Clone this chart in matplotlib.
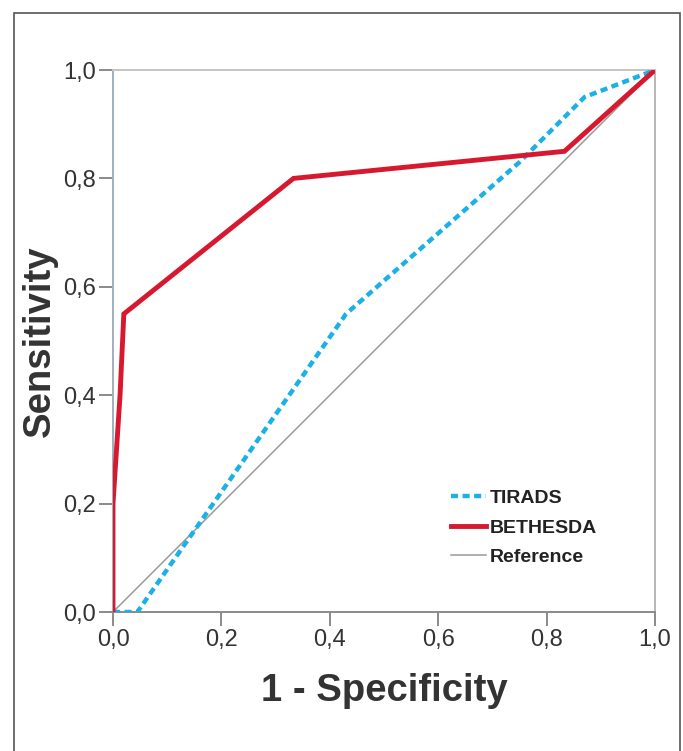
import matplotlib.pyplot as plt
from matplotlib.patches import Rectangle
from matplotlib.ticker import FuncFormatter

plt.rcParams['font.family'] = ['Liberation Sans', 'DejaVu Sans']

# ROC curve points
tirads_fpr = [0.0, 0.045, 0.43, 0.75, 0.87, 1.0]
tirads_tpr = [0.0, 0.0, 0.55, 0.83, 0.95, 1.0]

bethesda_fpr = [0.0, 0.0, 0.013, 0.02, 0.333, 0.833, 1.0]
bethesda_tpr = [0.0, 0.2, 0.4, 0.55, 0.8, 0.85, 1.0]

ref = [0.0, 1.0]
ticks = [0.0, 0.2, 0.4, 0.6, 0.8, 1.0]

fig = plt.figure(figsize=(6.83, 7.51), dpi=100)

# outer frame (no bottom edge visible)
fig.patches.append(Rectangle((14 / 683, -0.05), 666 / 683, 1 - 13 / 751 + 0.05,
                             transform=fig.transFigure, fill=False,
                             edgecolor='#555555', linewidth=1.2))

ax = fig.add_axes([113 / 683, 139 / 751, 542 / 683, 542 / 751])

ax.plot(ref, ref, color='#9a9a9a', linewidth=1.1, label='Reference', zorder=2)
ax.plot(tirads_fpr, tirads_tpr, color='#1cb1e6', linewidth=3.2,
        dashes=(1.6, 1.0), label='TIRADS', zorder=3)
ax.plot(bethesda_fpr, bethesda_tpr, color='#d7182f', linewidth=3.5,
        solid_joinstyle='miter', label='BETHESDA', zorder=4)

ax.set_xlim(0, 1)
ax.set_ylim(0, 1)
ax.set_xticks(ticks)
ax.set_yticks(ticks)
fmt = FuncFormatter(lambda v, p: f'{v:.1f}'.replace('.', ','))
ax.xaxis.set_major_formatter(fmt)
ax.yaxis.set_major_formatter(fmt)
ax.tick_params(axis='both', direction='out', length=10, width=1.2,
               color='#777777', labelsize=17, labelcolor='#333333', pad=2)

ax.spines['left'].set_color('#9fb0bd')
ax.spines['bottom'].set_color('#8a8a8a')
ax.spines['top'].set_color('#c4c4c4')
ax.spines['right'].set_color('#b8b8b8')
for s in ax.spines.values():
    s.set_linewidth(1.4)

ax.set_xlabel('1 - Specificity', fontsize=27.5, fontweight='bold',
              color='#333333', labelpad=16)
ax.set_ylabel('Sensitivity', fontsize=27.5, fontweight='bold',
              color='#333333', labelpad=4)

handles, labels = ax.get_legend_handles_labels()
order = [1, 2, 0]
leg = ax.legend([handles[i] for i in order], [labels[i] for i in order],
                loc='upper left', bbox_to_anchor=(0.592, 0.258), frameon=False,
                handlelength=1.8, handletextpad=0.15, labelspacing=0.6,
                prop={'size': 14, 'weight': 'bold'})
for t in leg.get_texts():
    t.set_color('#222222')

fig.savefig('out.png', dpi=100)
